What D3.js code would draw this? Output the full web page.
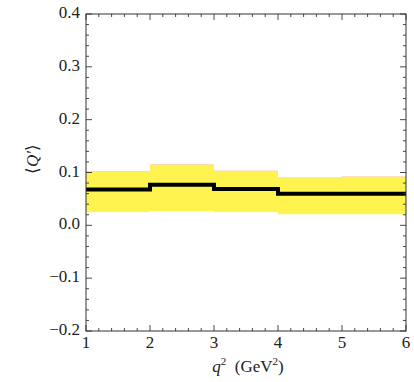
<!DOCTYPE html>
<html><head><meta charset="utf-8">
<script src="https://cdn.jsdelivr.net/npm/d3@7"></script>
<style>body{margin:0;background:#fff} text{font-family:"Liberation Serif", serif !important;}</style>
</head><body><svg id="c" width="414" height="382"></svg>
<script>
const binEdges = [1, 2, 3, 4, 5, 6];
const central = [0.068, 0.077, 0.069, 0.060, 0.060];
const upper = [0.102, 0.115, 0.103, 0.090, 0.092];
const lower = [0.025, 0.027, 0.025, 0.021, 0.021];
const xTicks = [1, 2, 3, 4, 5, 6];
const yTicks = [-0.2, -0.1, 0.0, 0.1, 0.2, 0.3, 0.4];

const svg = d3.select("#c");
const m = {l: 86, r: 406, t: 14, b: 331};
const x = d3.scaleLinear().domain([1, 6]).range([m.l, m.r]);
const y = d3.scaleLinear().domain([-0.2, 0.4]).range([m.b, m.t]);

const bins = central.map((c, i) => ({x0: binEdges[i], x1: binEdges[i+1], c, lo: lower[i], hi: upper[i]}));

svg.append("g").selectAll("rect").data(bins).join("rect")
  .attr("x", d => x(d.x0)).attr("width", d => x(d.x1) - x(d.x0))
  .attr("y", d => y(d.hi)).attr("height", d => y(d.lo) - y(d.hi))
  .attr("fill", "#fff44f");
svg.append("g").selectAll("line").data(bins).join("line")
  .attr("x1", d => x(d.x0)).attr("x2", d => x(d.x1))
  .attr("y1", d => y(d.hi)).attr("y2", d => y(d.hi))
  .attr("stroke", "#f6c8a8").attr("stroke-width", 0.6);

const pts = [];
bins.forEach(d => { pts.push([d.x0, d.c]); pts.push([d.x1, d.c]); });
svg.append("path").datum(pts)
  .attr("d", d3.line().x(d => x(d[0])).y(d => y(d[1])))
  .attr("fill", "none").attr("stroke", "#000").attr("stroke-width", 4);

svg.append("rect").attr("x", m.l).attr("y", m.t).attr("width", m.r - m.l).attr("height", m.b - m.t)
  .attr("fill", "none").attr("stroke", "#333").attr("stroke-width", 1);

const xMinor = d3.range(1, 6.001, 0.2);
const yMinor = d3.range(-0.2, 0.4001, 0.02);
const tg = svg.append("g").attr("stroke", "#333").attr("stroke-width", 0.9);
xMinor.forEach(v => {
  const major = xTicks.some(t => Math.abs(t - v) < 1e-6);
  const L = major ? 6 : 3;
  tg.append("line").attr("x1", x(v)).attr("x2", x(v)).attr("y1", m.b).attr("y2", m.b - L);
  tg.append("line").attr("x1", x(v)).attr("x2", x(v)).attr("y1", m.t).attr("y2", m.t + L);
});
yMinor.forEach(v => {
  const major = yTicks.some(t => Math.abs(t - v) < 1e-6);
  const L = major ? 6 : 3;
  tg.append("line").attr("y1", y(v)).attr("y2", y(v)).attr("x1", m.l).attr("x2", m.l + L);
  tg.append("line").attr("y1", y(v)).attr("y2", y(v)).attr("x1", m.r).attr("x2", m.r - L);
});

svg.append("g").selectAll("text").data(xTicks).join("text")
  .attr("x", d => x(d)).attr("y", m.b + 17).attr("text-anchor", "middle")
  .attr("font-size", 17).attr("fill", "#222").text(d => d3.format("d")(d));
svg.append("g").selectAll("text").data(yTicks).join("text")
  .attr("x", m.l - 6).attr("y", d => y(d) + 4).attr("text-anchor", "end")
  .attr("font-size", 17).attr("fill", "#222").text(d => d3.format(".1f")(d).replace("-", "\u2212"));

const xl = svg.append("text").attr("x", 248).attr("y", 372).attr("text-anchor", "middle")
  .attr("font-size", 17).attr("fill", "#222");
xl.append("tspan").attr("font-style", "italic").text("q");
xl.append("tspan").attr("font-size", 11).attr("dy", -7).text("2");
xl.append("tspan").attr("dy", 7).text("\u2002(GeV");
xl.append("tspan").attr("font-size", 11).attr("dy", -7).text("2");
xl.append("tspan").attr("dy", 7).text(")");

const yl = svg.append("text").attr("transform", "translate(38,159) rotate(-90)")
  .attr("text-anchor", "middle").attr("font-size", 17).attr("fill", "#222");
yl.append("tspan").text("\u27E8");
yl.append("tspan").attr("font-style", "italic").text("Q\u2032");
yl.append("tspan").text("\u27E9");
</script></body></html>
